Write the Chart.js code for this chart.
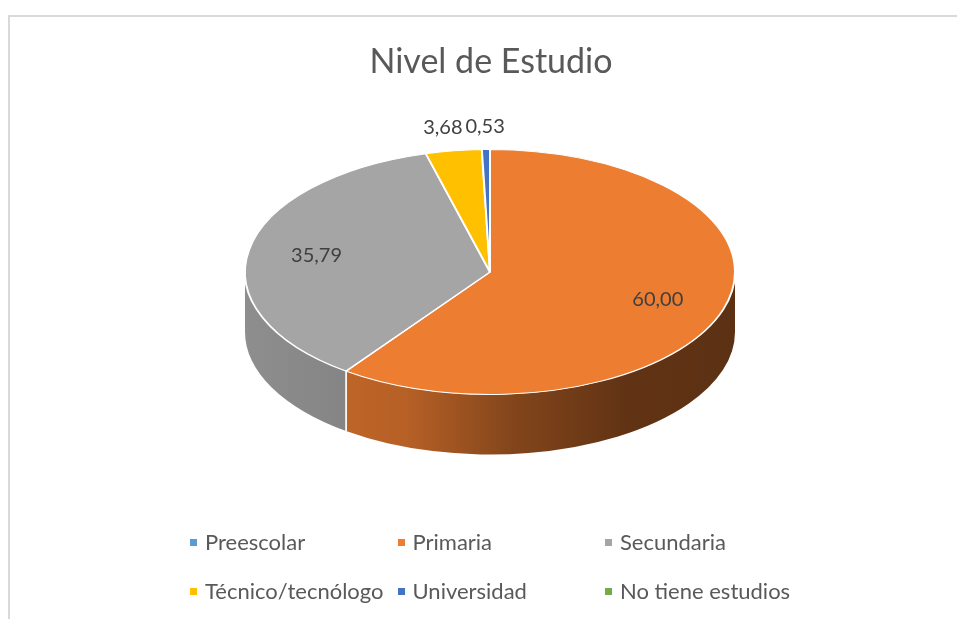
<!DOCTYPE html>
<html>
<head>
<meta charset="utf-8">
<script src="https://cdn.jsdelivr.net/npm/chart.js@4.4.0/dist/chart.umd.min.js"></script>
<style>
  html, body { margin: 0; padding: 0; background: #fff; overflow: hidden; }
  #wrap { position: relative; width: 957px; height: 619px; font-family: Lato, "Open Sans", sans-serif; color: #595959; }
  #frame { position: absolute; left: 8px; top: 15px; width: 960px; height: 620px; border-top: 2px solid #d9d9d9; border-left: 2px solid #d9d9d9; }
  #title { position: absolute; left: 0; top: 40px; width: 982px; text-align: center; font-size: 34px; line-height: 1.2; }
  canvas { position: absolute; left: 0; top: 0; }
  #legend { position: absolute; left: 190px; top: 518px; display: grid; grid-template-columns: repeat(3, 207.5px); grid-auto-rows: 49px; font-size: 22px; line-height: 1.2; }
  #legend .item { display: flex; align-items: center; white-space: nowrap; }
  #legend .box { width: 7px; height: 7px; margin-right: 8px; flex: none; }
</style>
</head>
<body>
<div id="wrap">
  <div id="frame"></div>
  <canvas id="pieChart" width="957" height="619"></canvas>
  <div id="title">Nivel de Estudio</div>
  <div id="legend"></div>
</div>
<script>
const labels = ["Preescolar", "Primaria", "Secundaria", "Técnico/tecnólogo", "Universidad", "No tiene estudios"];
const values = [0, 60.00, 35.79, 3.68, 0.53, 0];
const colors = ["#5b9bd5", "#ed7d31", "#a5a5a5", "#ffc000", "#4472c4", "#70ad47"];

const TILT = 0.5; // squash of the top face
const DEPTH = 60; // side wall height

function shade(hex, f) {
	const n = parseInt(hex.slice(1), 16);
	const r = Math.round(((n >> 16) & 255) * f);
	const g = Math.round(((n >> 8) & 255) * f);
	const b = Math.round((n & 255) * f);
	return "rgb(" + r + "," + g + "," + b + ")";
}

const pie3d = {
	id: "pie3d",
	beforeDatasetsDraw(chart) {
		const ctx = chart.ctx;
		const arcs = chart.getDatasetMeta(0).data;
		const cx = arcs[0].x, cy = arcs[0].y, r = arcs[0].outerRadius;
		const ry = r * TILT;
		// walls: only the front half (0..PI) can be seen
		arcs.forEach((arc, i) => {
			if (!values[i]) return;
			[-2 * Math.PI, 0, 2 * Math.PI].forEach((shift) => {
				const a1 = Math.max(arc.startAngle + shift, 0);
				const a2 = Math.min(arc.endAngle + shift, Math.PI);
				if (a2 <= a1) return;
				const grad = ctx.createLinearGradient(cx - r, 0, cx + r, 0);
				grad.addColorStop(0, shade(colors[i], 0.86));
				grad.addColorStop(0.33, shade(colors[i], 0.77));
				grad.addColorStop(0.55, shade(colors[i], 0.55));
				grad.addColorStop(0.78, shade(colors[i], 0.41));
				grad.addColorStop(1, shade(colors[i], 0.39));
				ctx.beginPath();
				ctx.ellipse(cx, cy, r, ry, 0, a1, a2);
				ctx.ellipse(cx, cy + DEPTH, r, ry, 0, a2, a1, true);
				ctx.closePath();
				ctx.fillStyle = grad;
				ctx.fill();
				ctx.strokeStyle = "#fff";
				ctx.lineWidth = 1.5;
				[a1, a2].forEach((a) => {
					if (a <= 0 || a >= Math.PI) return;
					const x = cx + r * Math.cos(a), y = cy + ry * Math.sin(a);
					ctx.beginPath();
					ctx.moveTo(x, y);
					ctx.lineTo(x, y + DEPTH);
					ctx.stroke();
				});
			});
		});
		ctx.save();
		ctx.translate(cx, cy);
		ctx.scale(1, TILT);
		ctx.translate(-cx, -cy);
	},
	afterDatasetsDraw(chart) {
		const ctx = chart.ctx;
		ctx.restore();
		const arcs = chart.getDatasetMeta(0).data;
		const pos = [];
		ctx.font = "20px Lato, 'Open Sans', sans-serif";
		arcs.forEach((arc, i) => {
			if (!values[i]) return;
			const mid = (arc.startAngle + arc.endAngle) / 2;
			const share = (arc.endAngle - arc.startAngle) / (2 * Math.PI);
			const rho = share < 0.05 ? 1.19 : 0.72;
			const text = values[i].toFixed(2).replace(".", ",");
			pos.push({
				text: text,
				x: arc.x + rho * arc.outerRadius * Math.cos(mid),
				y: arc.y + rho * arc.outerRadius * TILT * Math.sin(mid),
				w: ctx.measureText(text).width,
				outside: share < 0.05,
			});
		});
		// push crowded outside labels apart
		for (let k = pos.length - 2; k >= 0; k--) {
			const a = pos[k], b = pos[k + 1];
			if (!a.outside || !b.outside) continue;
			const over = a.x + a.w / 2 + 3 - (b.x - b.w / 2);
			if (over > 0) a.x -= over;
		}
		ctx.fillStyle = "#404040";
		ctx.textAlign = "center";
		ctx.textBaseline = "middle";
		pos.forEach((p) => ctx.fillText(p.text, p.x, p.y));
	},
};

const ctxPie = document.getElementById("pieChart").getContext("2d");
const pieChart = new Chart(ctxPie, {
	type: "pie",
	data: {
		labels: labels,
		datasets: [
			{
				data: values,
				backgroundColor: colors,
				borderColor: "#fff",
				borderWidth: 2,
				clip: false,
			},
		],
	},
	options: {
		responsive: false,
		animation: false,
		events: [],
		layout: {
			padding: { left: 244, right: 221, top: 26, bottom: 101 },
		},
		plugins: {
			legend: { display: false },
			tooltip: { enabled: false },
		},
	},
	plugins: [pie3d],
});

// legend in the chart's own grid order
const legendEl = document.getElementById("legend");
labels.forEach((name, i) => {
	const item = document.createElement("div");
	item.className = "item";
	const box = document.createElement("span");
	box.className = "box";
	box.style.background = colors[i];
	item.appendChild(box);
	item.appendChild(document.createTextNode(name));
	legendEl.appendChild(item);
});
</script>
</body>
</html>
